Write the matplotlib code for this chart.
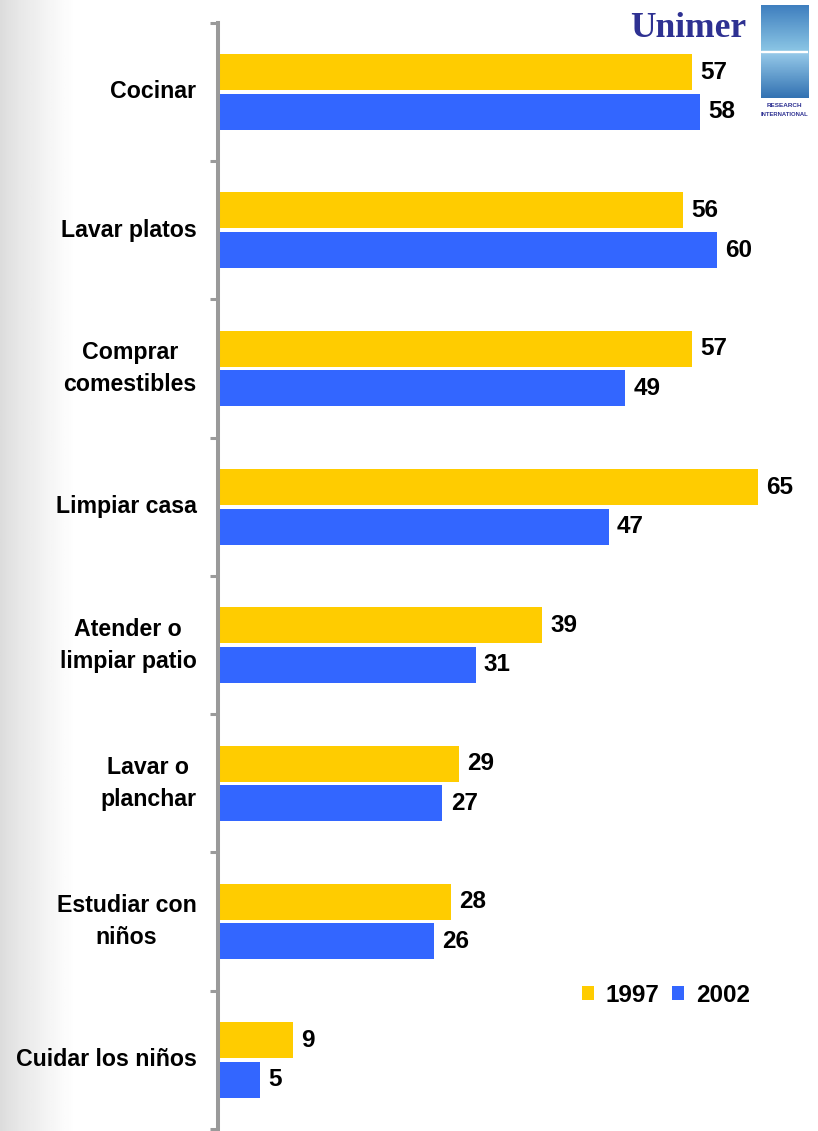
import matplotlib.pyplot as plt
import numpy as np
from matplotlib.patches import Rectangle

plt.rcParams['font.family'] = ['Liberation Sans', 'DejaVu Sans']

categories = ['Cocinar', 'Lavar platos', 'Comprar\ncomestibles', 'Limpiar casa',
              'Atender o\nlimpiar patio', 'Lavar o\nplanchar', 'Estudiar con\nniños',
              'Cuidar los niños']
values_1997 = [57, 56, 57, 65, 39, 29, 28, 9]
values_2002 = [58, 60, 49, 47, 31, 27, 26, 5]
years = ['1997', '2002']

yellow = '#FFCC00'
blue = '#3366FF'
axis_grey = '#9a9a9a'

fig = plt.figure(figsize=(8.18, 11.31), dpi=100)

# soft grey fade on the left edge of the slide
bg = fig.add_axes([0, 0, 1, 1], zorder=-10)
grad = np.clip(np.linspace(0, 1, 400) / 0.09, 0, 1) ** 0.8
shade = 0.86 + 0.14 * grad
bg.imshow(np.tile(shade, (10, 1)), cmap='gray', vmin=0, vmax=1,
          aspect='auto', extent=[0, 1, 0, 1])
bg.set_xlim(0, 1)
bg.set_ylim(0, 1)
bg.axis('off')

ax = fig.add_axes([0.2665, 0.0018, 0.7335, 0.978])
ax.patch.set_alpha(0)

y = np.arange(len(categories))
off = 0.143
h = 0.26
ax.barh(y - off, values_1997, height=h, color=yellow, label=years[0])
ax.barh(y + off, values_2002, height=h, color=blue, label=years[1])

for yi, v1, v2 in zip(y, values_1997, values_2002):
    ax.text(v1 + 1.0, yi - off, str(v1), va='center', ha='left',
            fontsize=17.5, fontweight='bold')
    ax.text(v2 + 1.0, yi + off, str(v2), va='center', ha='left',
            fontsize=17.5, fontweight='bold')

for yi, name in zip(y, categories):
    ax.text(-2.6, yi, name, ha='right', va='center', multialignment='center',
            fontsize=16.7, fontweight='bold', linespacing=1.5)

ax.set_xlim(0, 72.2)
ax.set_ylim(len(categories) - 0.5, -0.5)
ax.set_xticks([])
ax.set_yticks(np.arange(len(categories) + 1) - 0.5)
ax.set_yticklabels([])
ax.tick_params(axis='y', length=6, width=2.2, color=axis_grey, direction='out')
for s in ['top', 'right', 'bottom']:
    ax.spines[s].set_visible(False)
ax.spines['left'].set_color(axis_grey)
ax.spines['left'].set_linewidth(2.9)

ax.legend(loc='center left', bbox_to_anchor=(0.711, 0.12),
          bbox_transform=fig.transFigure, frameon=False, ncol=2,
          prop={'weight': 'bold', 'size': 17.5}, handlelength=0.5,
          handleheight=0.5, handletextpad=0.5, columnspacing=0.5,
          borderpad=0, borderaxespad=0)

# Unimer / Research International logo
fig.text(0.912, 0.9745, 'Unimer', ha='right', va='center', fontsize=25.5,
         fontweight='bold', color='#2E3192', family='Liberation Serif')
logo = fig.add_axes([0.930, 0.9135, 0.058, 0.082])
wave = np.linspace(0, 1, 60)
img = np.zeros((60, 20, 3))
for i, t in enumerate(wave):
    if t < 0.5:
        c = np.array([0.25, 0.5, 0.75]) * (1 - t * 2) + np.array([0.55, 0.78, 0.9]) * t * 2
    else:
        s = (t - 0.5) * 2
        c = np.array([0.6, 0.8, 0.92]) * (1 - s) + np.array([0.2, 0.45, 0.7]) * s
    img[i, :, :] = c
logo.imshow(img, aspect='auto', extent=[0, 1, 0, 1])
logo.add_patch(Rectangle((0, 0.49), 1, 0.02, color='white'))
logo.set_xlim(0, 1)
logo.set_ylim(0, 1)
logo.axis('off')
fig.text(0.959, 0.907, 'RESEARCH', ha='center', va='center', fontsize=4.6,
         fontweight='bold', color='#2E3192')
fig.text(0.959, 0.899, 'INTERNATIONAL', ha='center', va='center', fontsize=4.2,
         fontweight='bold', color='#2E3192')

fig.savefig('out.png', dpi=100)
